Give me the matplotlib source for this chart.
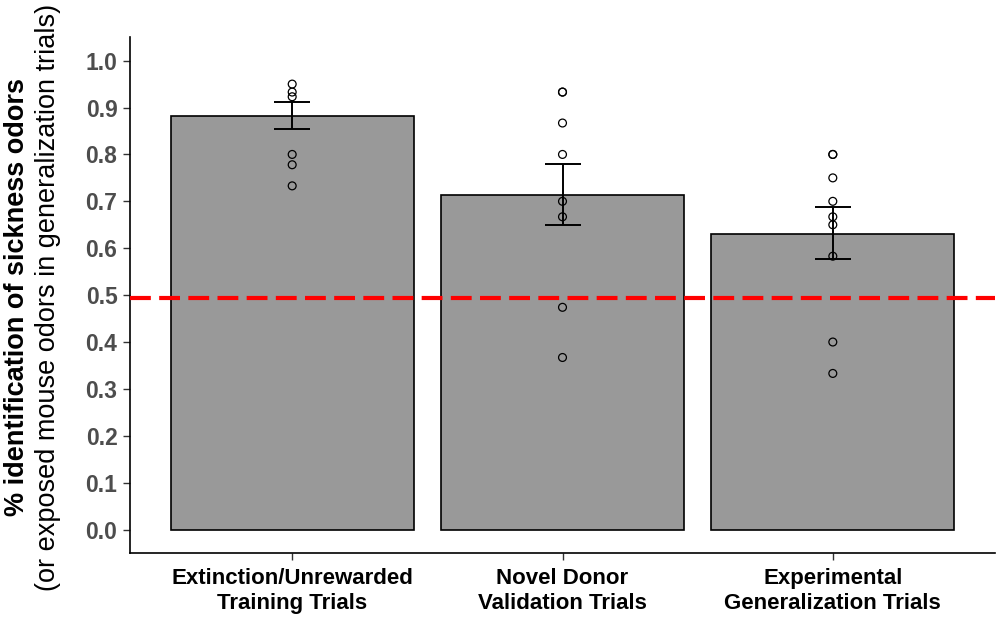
import matplotlib.pyplot as plt
import numpy as np

plt.rcParams['font.family'] = ['Liberation Sans', 'DejaVu Sans']

# Data
categories = ['Extinction/Unrewarded\nTraining Trials',
              'Novel Donor\nValidation Trials',
              'Experimental\nGeneralization Trials']
means = [0.883, 0.714, 0.631]
err_low = [0.854, 0.650, 0.576]
err_high = [0.912, 0.780, 0.687]
points = [
    [0.950, 0.933, 0.923, 0.800, 0.778, 0.733],
    [0.933, 0.933, 0.867, 0.800, 0.700, 0.667, 0.474, 0.367],
    [0.800, 0.800, 0.750, 0.700, 0.667, 0.650, 0.583, 0.400, 0.333],
]
chance = 0.493
yticks = [0.0, 0.1, 0.2, 0.3, 0.4, 0.5, 0.6, 0.7, 0.8, 0.9, 1.0]

fig = plt.figure(figsize=(10, 6.2), dpi=100)
ax = fig.add_axes([0.13, 0.108, 0.865, 0.832])

x = np.arange(1, len(categories) + 1)
ax.bar(x, means, width=0.9, color='#999999', edgecolor='black', linewidth=1.2, zorder=1)

# error bars
means_a = np.array(means)
yerr = [means_a - np.array(err_low), np.array(err_high) - means_a]
ax.errorbar(x, means, yerr=yerr, fmt='none', ecolor='black', elinewidth=1.4,
            capsize=13, capthick=1.4, zorder=2)

# individual points
for i, pts in enumerate(points):
    ax.scatter([x[i]] * len(pts), pts, s=32, facecolors='none',
               edgecolors='black', linewidths=0.9, zorder=3)

# chance line
ax.axhline(chance, color='#FF0000', linewidth=3, dashes=(5, 2), zorder=4)

ax.set_xlim(0.4, 3.6)
ax.set_ylim(-0.05, 1.05)
ax.set_xticks(x)
ax.set_xticklabels(categories, fontsize=16, fontweight='bold', color='black',
                   linespacing=1.25)
ax.set_yticks(yticks)
ax.set_yticklabels([f'{v:.1f}' for v in yticks], fontsize=16.5, fontweight='bold', color='#4D4D4D')
ax.tick_params(axis='y', length=5, width=1, color='#333333', pad=4)
ax.tick_params(axis='x', length=5, width=1, color='#333333', pad=6)

for side in ['top', 'right']:
    ax.spines[side].set_visible(False)
for side in ['left', 'bottom']:
    ax.spines[side].set_linewidth(1.2)
    ax.spines[side].set_color('black')

# y axis label (two lines, first bold)
fig.text(0.017, 0.521, '% identification of sickness odors', rotation=90,
         fontsize=19.5, fontweight='bold', ha='center', va='center')
fig.text(0.048, 0.521, '(or exposed mouse odors in generalization trials)', rotation=90,
         fontsize=19.5, ha='center', va='center')

fig.savefig('out.png', dpi=100)
